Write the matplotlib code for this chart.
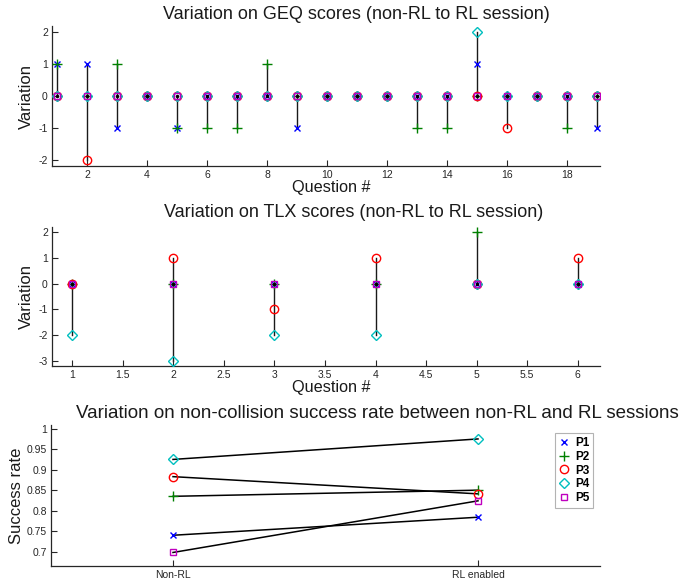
import matplotlib
matplotlib.use("Agg")
import matplotlib.pyplot as plt
import numpy as np

plt.rcParams['font.family'] = ['Liberation Sans', 'DejaVu Sans']
plt.rcParams['axes.unicode_minus'] = False

participants = ["P1", "P2", "P3", "P4", "P5"]
colors = ["#0000ff", "#008000", "#ff0000", "#00bfbf", "#bf00bf"]
markers = ["x", "+", "o", "D", "s"]
msizes = [5, 7, 6, 5, 5]

# GEQ variations, questions 1..19, per participant
geq_questions = list(range(1, 20))
geq_p1 = [1, 1, -1, 0, -1, 0, 0, 0, -1, 0, 0, 0, 0, 0, 1, 0, 0, 0, -1]
geq_p2 = [1, 0, 1, 0, -1, -1, -1, 1, 0, 0, 0, 0, -1, -1, 0, 0, 0, -1, 0]
geq_p3 = [0, -2, 0, 0, 0, 0, 0, 0, 0, 0, 0, 0, 0, 0, 0, -1, 0, 0, 0]
geq_p4 = [0, 0, 0, 0, 0, 0, 0, 0, 0, 0, 0, 0, 0, 0, 2, 0, 0, 0, 0]
geq_p5 = [0, 0, 0, 0, 0, 0, 0, 0, 0, 0, 0, 0, 0, 0, 0, 0, 0, 0, 0]

# TLX variations, questions 1..6
tlx_questions = [1, 2, 3, 4, 5, 6]
tlx_p1 = [0, 0, 0, 0, 0, 0]
tlx_p2 = [0, 0, 0, 0, 2, 0]
tlx_p3 = [0, 1, -1, 1, 0, 1]
tlx_p4 = [-2, -3, -2, -2, 0, 0]
tlx_p5 = [0, 0, 0, 0, 0, 0]

# Success rate
sessions = ["Non-RL", "RL enabled"]
rate_nonrl = [0.740, 0.835, 0.883, 0.925, 0.698]
rate_rl = [0.784, 0.850, 0.841, 0.975, 0.824]

fig = plt.figure(figsize=(6.83, 5.83), dpi=100)
W, H = 683.0, 583.0

def make_ax(left, top, right, bottom):
    return fig.add_axes([left / W, 1 - bottom / H, (right - left) / W, (bottom - top) / H])

axc = "#262626"
txc = "#1a1a1a"

def style(ax):
    for s in ["top", "right"]:
        ax.spines[s].set_visible(False)
    for s in ["left", "bottom"]:
        ax.spines[s].set_color(axc)
        ax.spines[s].set_linewidth(0.9)
    ax.tick_params(direction="in", length=4, width=0.8, colors=axc, labelsize=7.5, pad=3)

def stem_panel(ax, qs, series):
    arr = np.array(series)
    for i, q in enumerate(qs):
        col = arr[:, i]
        ax.plot([q, q], [col.min(), col.max()], color="#1a1a1a", lw=1.0, zorder=1)
    for k, vals in enumerate(series):
        ax.plot(qs, vals, linestyle="none", marker=markers[k], color=colors[k],
                markersize=msizes[k], markerfacecolor="none", markeredgewidth=1.0, zorder=2 + k)
    ax.plot(qs, np.zeros(len(qs)), linestyle="none", marker=".", color="black",
            markersize=3, zorder=10)

# Top panel
ax1 = make_ax(52, 26, 600, 166)
stem_panel(ax1, geq_questions, [geq_p1, geq_p2, geq_p3, geq_p4, geq_p5])
ax1.set_xlim(0.83, 19.1)
ax1.set_ylim(-2.2, 2.2)
ax1.set_xticks(range(2, 19, 2))
ax1.set_yticks([-2, -1, 0, 1, 2])
style(ax1)
ax1.set_title("Variation on GEQ scores (non-RL to RL session)", fontsize=13, pad=5,
              color=txc, x=0.555)
ax1.set_xlabel("Question #", fontsize=11.7, labelpad=0, color=txc, x=0.51)
ax1.set_ylabel("Variation", fontsize=12, labelpad=3, color=txc)

# Middle panel
ax2 = make_ax(52, 227, 600, 366)
stem_panel(ax2, tlx_questions, [tlx_p1, tlx_p2, tlx_p3, tlx_p4, tlx_p5])
ax2.set_xlim(0.8, 6.22)
ax2.set_ylim(-3.2, 2.2)
ax2.set_xticks(np.arange(1, 6.01, 0.5))
ax2.set_xticklabels(["1", "1.5", "2", "2.5", "3", "3.5", "4", "4.5", "5", "5.5", "6"])
ax2.set_yticks([-3, -2, -1, 0, 1, 2])
style(ax2)
ax2.set_title("Variation on TLX scores (non-RL to RL session)", fontsize=13, pad=7,
              color=txc, x=0.551)
ax2.set_xlabel("Question #", fontsize=11.7, labelpad=0, color=txc, x=0.51)
ax2.set_ylabel("Variation", fontsize=12, labelpad=3, color=txc)

# Bottom panel
ax3 = make_ax(51, 425, 600, 566)
xs = [1, 2]
for k in range(len(participants)):
    ax3.plot(xs, [rate_nonrl[k], rate_rl[k]], color="black", lw=1.1, zorder=1)
for k, p in enumerate(participants):
    ax3.plot(xs, [rate_nonrl[k], rate_rl[k]], linestyle="none", marker=markers[k],
             color=colors[k], markersize=msizes[k], markerfacecolor="none",
             markeredgewidth=1.0, label=p, zorder=2 + k)
ax3.set_xlim(0.6, 2.4)
ax3.set_ylim(0.665, 1.009)
ax3.set_xticks(xs)
ax3.set_xticklabels(sessions)
ax3.set_yticks([0.7, 0.75, 0.8, 0.85, 0.9, 0.95, 1.0])
ax3.set_yticklabels(["0.7", "0.75", "0.8", "0.85", "0.9", "0.95", "1"])
style(ax3)
ax3.set_title("Variation on non-collision success rate between non-RL and RL sessions",
              fontsize=13.5, pad=5, color=txc, x=0.594)
ax3.set_ylabel("Success rate", fontsize=12, labelpad=2, color=txc)
leg = ax3.legend(loc="upper right", bbox_to_anchor=(0.988, 0.94),
                 prop={"weight": "bold", "size": 8.5}, frameon=True, fancybox=False,
                 handlelength=0.8, handletextpad=0.6, borderpad=0.3, labelspacing=0.15,
                 edgecolor="#a0a0a0", borderaxespad=0)
leg.get_frame().set_linewidth(0.8)

fig.savefig("out.png", dpi=100)
